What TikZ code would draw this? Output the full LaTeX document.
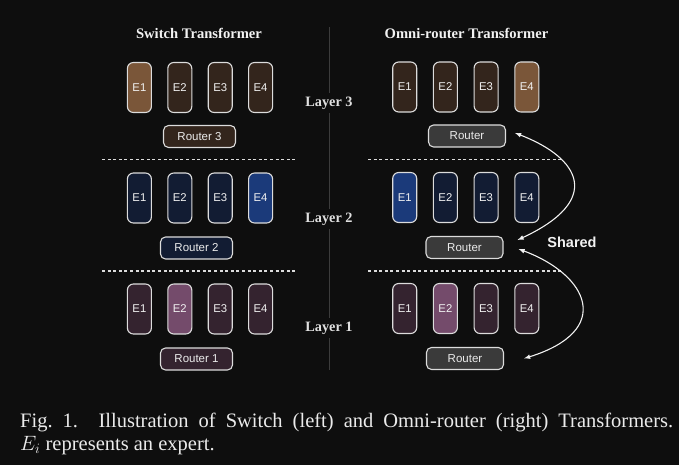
\documentclass[tikz,border=0pt]{standalone}
\usepackage{fontspec}
\setmainfont{Liberation Serif}
\setsansfont{Liberation Sans}
\usetikzlibrary{arrows}
\definecolor{bg}{HTML}{0E0E0E}
\definecolor{brnA}{HTML}{7A5639}
\definecolor{brnB}{HTML}{33251C}
\definecolor{bluA}{HTML}{1B3A7A}
\definecolor{bluB}{HTML}{121C33}
\definecolor{plmA}{HTML}{744B6B}
\definecolor{plmB}{HTML}{34232F}
\definecolor{rtgray}{HTML}{3A3A3A}
\definecolor{edge}{HTML}{DCDCDC}
\definecolor{divgray}{HTML}{3C3C3C}

\begin{document}
\begin{tikzpicture}[x=1pt,y=-1pt,
	expert/.style={draw=edge,line width=1.1pt,rounded corners=6pt,minimum width=24pt,minimum height=50pt,inner sep=0pt,text=white!95!black,font=\sffamily\fontsize{11.3}{13}\selectfont},
	router/.style={draw=edge,line width=1.1pt,rounded corners=5pt,minimum width=72pt,minimum height=22pt,inner sep=0pt,text=white!92!black,font=\sffamily\fontsize{11.5}{13}\selectfont},
	title/.style={text=white!95!black,font=\bfseries\fontsize{14.6}{16}\selectfont},
	layer/.style={fill=bg,inner sep=4pt,text=white!88!black,font=\bfseries\fontsize{14.3}{16}\selectfont},
	sep/.style={edge,line width=1.2pt,dash pattern=on 3pt off 2.6pt},
	shared/.style={<->,>=latex,white!95!black,line width=1.1pt}]
	\fill[bg] (0,0) rectangle (679,465);
	\useasboundingbox (0,0) rectangle (679,465);
	\node[title] (st) at (199,33) {Switch Transformer};
	\node[title] (ot) at (466.5,33) {Omni-router Transformer};
	\draw[divgray,line width=1pt] (329,27) -- (329,370);
	\foreach \y in {159.5,271}{
		\draw[sep] (102,\y) -- (297,\y);
		\draw[sep] (368,\y) -- (563,\y);}
	\foreach \n/\y/\ly/\ca/\cb/\hs/\ho in {3/87.5/103/brnA/brnB/1/4,2/198/219/bluA/bluB/4/1,1/309/328/plmA/plmB/2/2}{
		\foreach \i in {1,...,4}{
			\ifnum\i=\hs \def\fc{\ca}\else\def\fc{\cb}\fi
			\node[expert,fill=\fc] (s\n-\i) at (99+40.4*\i,\y) {E\i};
			\ifnum\i=\ho \def\fc{\ca}\else\def\fc{\cb}\fi
			\node[expert,fill=\fc] (o\n-\i) at (364+40.7*\i,\y-0.5) {E\i};}
		\node[layer] (l\n) at (329,\ly) {Layer \n};}
	\node[router,fill=brnB] (sr3) at (199.5,136.5) {Router 3};
	\node[router,fill=bluB] (sr2) at (196.5,248) {Router 2};
	\node[router,fill=plmB] (sr1) at (196.5,359) {Router 1};
	\node[router,fill=rtgray,minimum width=77pt] (or3) at (467,136) {Router};
	\node[router,fill=rtgray,minimum width=77pt] (or2) at (464.5,247.5) {Router};
	\node[router,fill=rtgray,minimum width=77pt] (or1) at (465,358.5) {Router};
	\draw[shared] ([shift={(9,-3)}]or3.east) .. controls +(65,25) and +(86,-40) .. ([shift={(14,-7.5)}]or2.east);
	\draw[shared] ([shift={(15,1.5)}]or2.east) .. controls +(70,26) and +(90,-28) .. ([shift={(20,0)}]or1.east);
	\node[text=white!95!black,font=\sffamily\bfseries\fontsize{14.5}{16}\selectfont] (sh) at (572,242) {Shared};
	\node[anchor=north west,text width=653pt,align=justify,inner sep=0pt,text=white!92!black,font=\fontsize{20.5}{22.5}\selectfont] (cap) at (20,413) {Fig.~1.\hspace{1em}Illustration of Switch (left) and Omni-router (right) Transformers.\linebreak $E_i$ represents an expert.};
\end{tikzpicture}
\end{document}
